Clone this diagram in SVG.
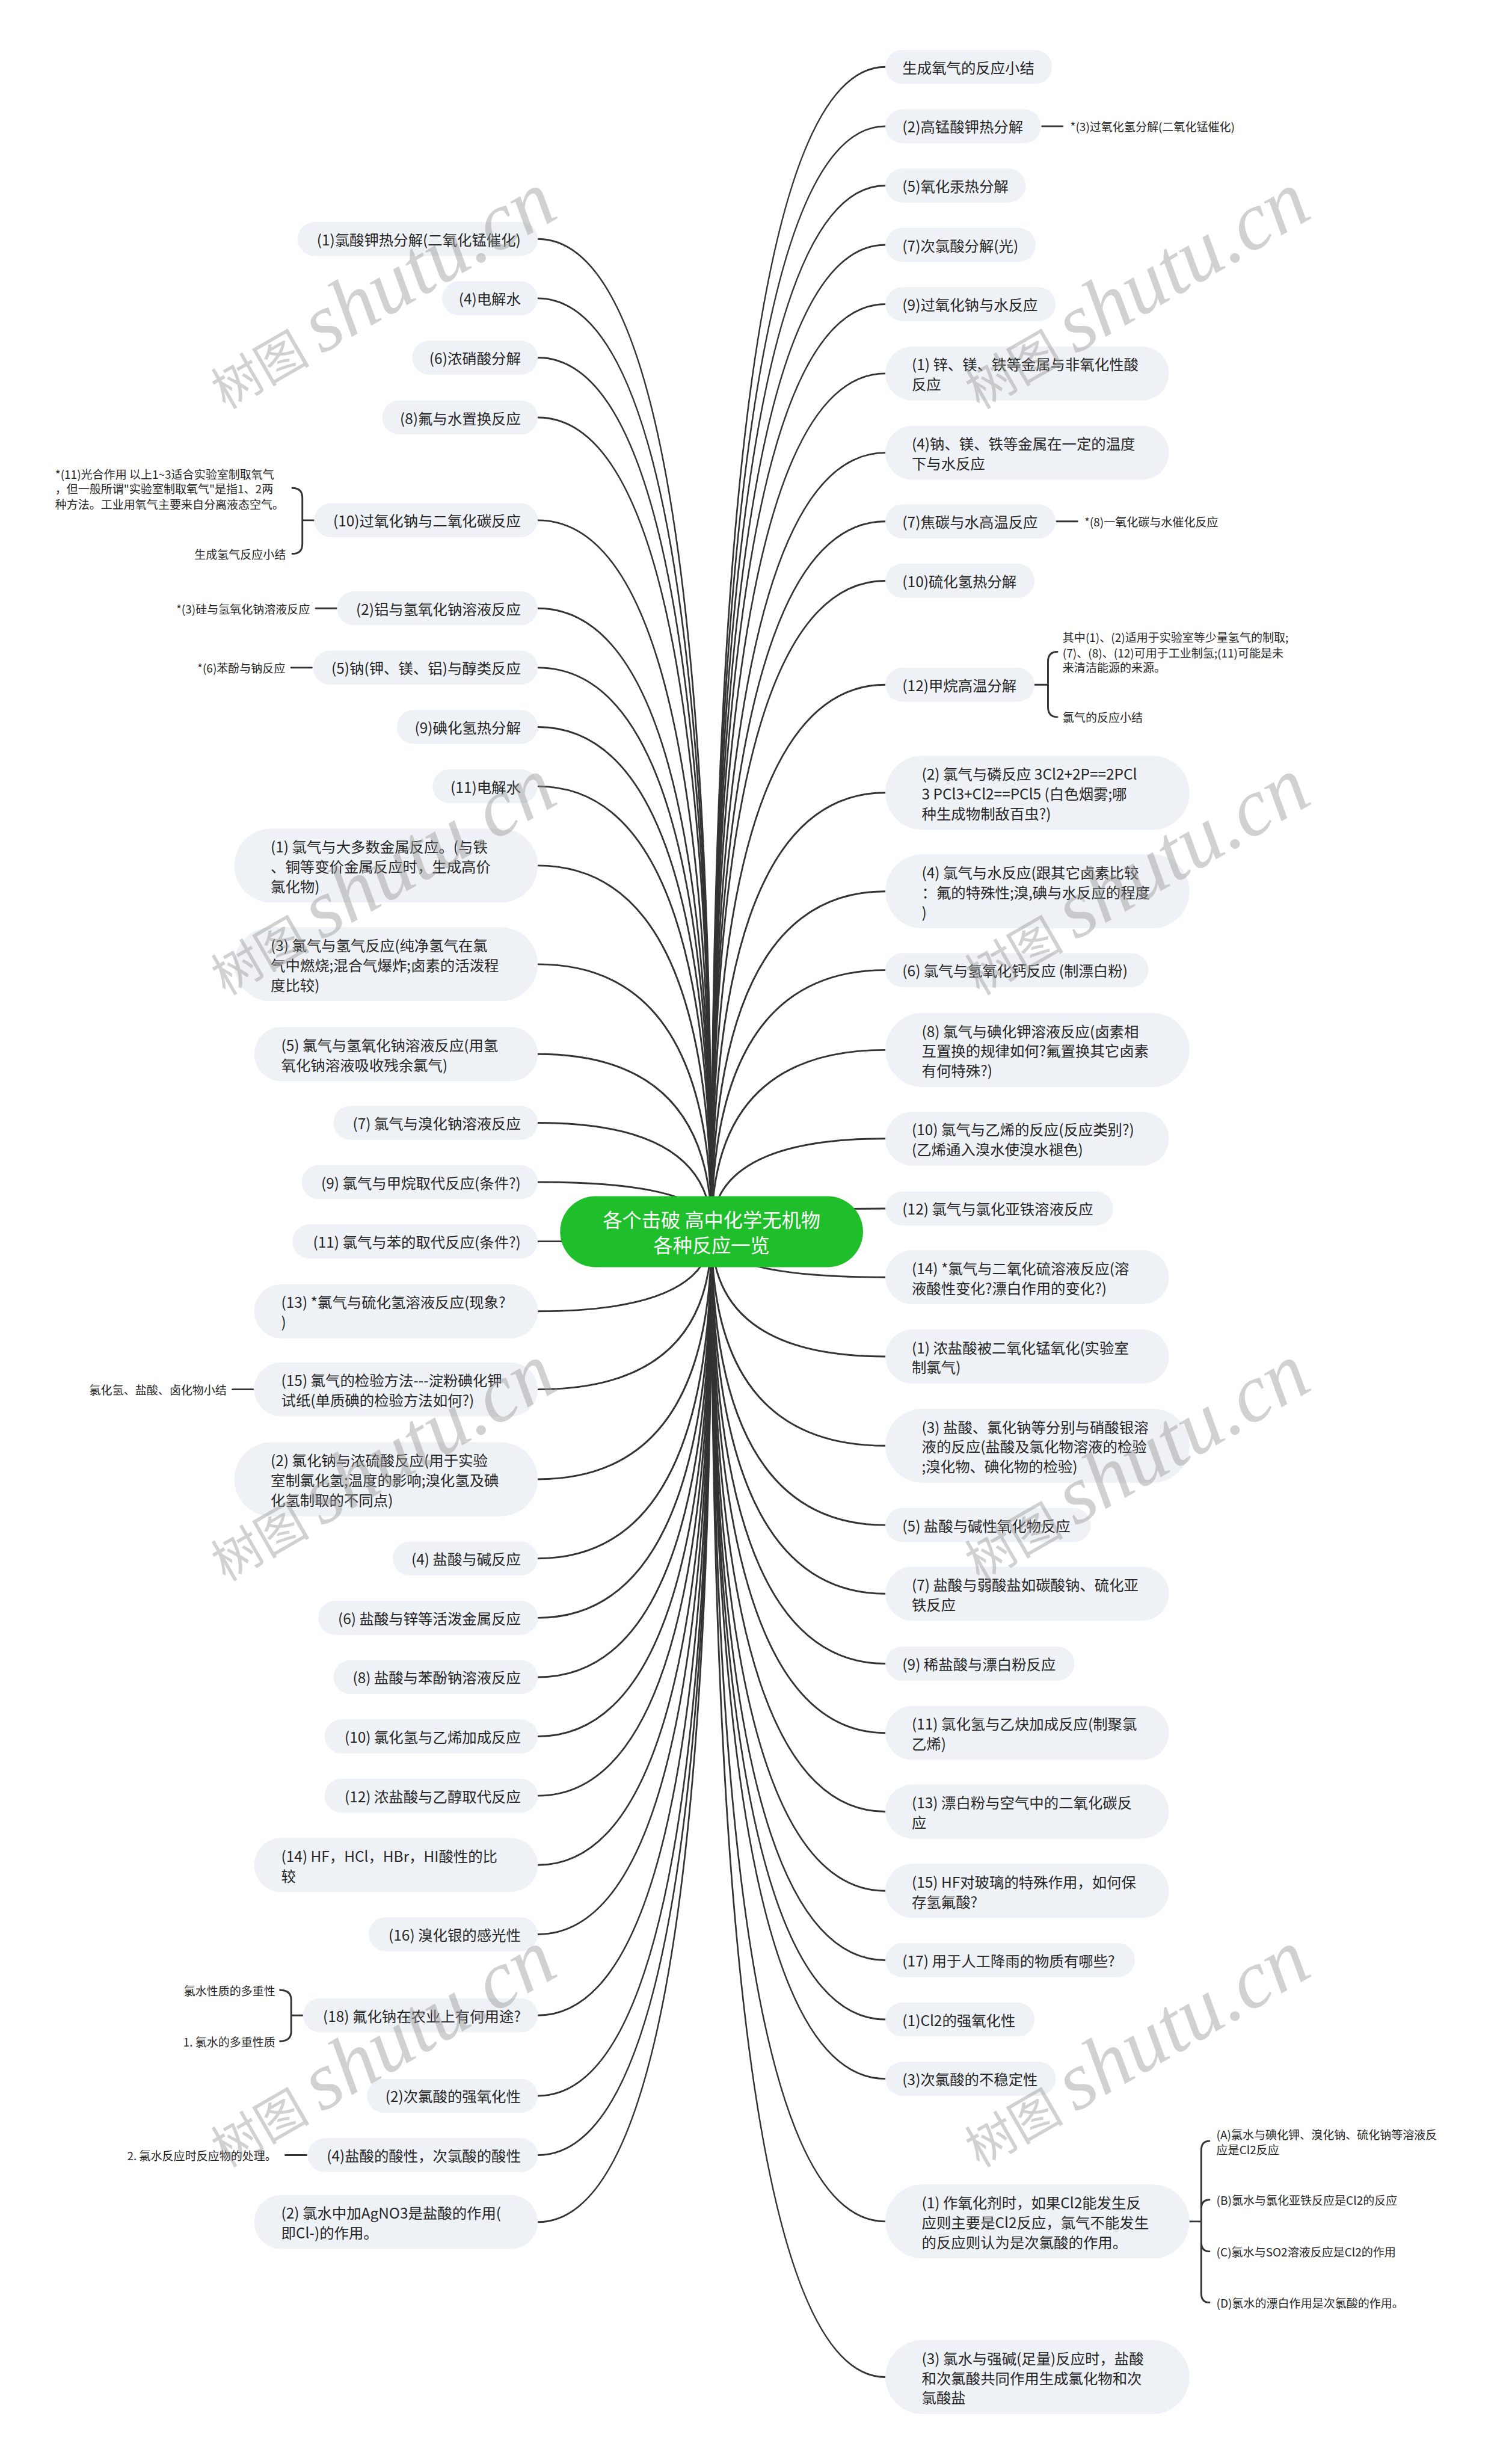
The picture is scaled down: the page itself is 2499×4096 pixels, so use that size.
<svg xmlns="http://www.w3.org/2000/svg" width="2499" height="4096" viewBox="0 0 2499 4096">
<style>
.nb{fill:#EEF1F5}
.t{font-family:"Noto Sans CJK SC","Liberation Sans",sans-serif;font-size:25px;fill:#262626;dominant-baseline:central}
.e{text-anchor:end}
.s{font-size:19.5px}
.c{fill:none;stroke:#333333;stroke-width:3;stroke-linecap:round}
.root{fill:#1FBF2C}
.rt{font-family:"Noto Sans CJK SC","Liberation Sans",sans-serif;font-size:33px;fill:#ffffff;text-anchor:middle;dominant-baseline:central}
.wm{font-family:"Liberation Serif","Noto Sans CJK SC",serif;font-size:84px;fill:#9a9a9a;fill-opacity:0.45}
</style>
<rect width="2499" height="4096" fill="#ffffff"/>
<g transform="scale(0.97617)">
<g id="connectors">
<path class="c" d="M1212,2097Q1212,407 916,407"/>
<path class="c" d="M1212,2097Q1212,508 916,508"/>
<path class="c" d="M1212,2097Q1212,609 916,609"/>
<path class="c" d="M1212,2097Q1212,711 916,711"/>
<path class="c" d="M1212,2097Q1212,886 916,886"/>
<path class="c" d="M1212,2097Q1212,1036 916,1036"/>
<path class="c" d="M1212,2097Q1212,1137 916,1137"/>
<path class="c" d="M1212,2097Q1212,1238 916,1238"/>
<path class="c" d="M1212,2097Q1212,1339 916,1339"/>
<path class="c" d="M1212,2097Q1212,1474 916,1474"/>
<path class="c" d="M1212,2097Q1212,1642 916,1642"/>
<path class="c" d="M1212,2097Q1212,1795 916,1795"/>
<path class="c" d="M1212,2097Q1212,1912 916,1912"/>
<path class="c" d="M1212,2097Q1212,2013 916,2013"/>
<path class="c" d="M1212,2097Q1212,2114 916,2114"/>
<path class="c" d="M1212,2097Q1212,2233 916,2233"/>
<path class="c" d="M1212,2097Q1212,2366 916,2366"/>
<path class="c" d="M1212,2097Q1212,2519 916,2519"/>
<path class="c" d="M1212,2097Q1212,2654 916,2654"/>
<path class="c" d="M1212,2097Q1212,2755 916,2755"/>
<path class="c" d="M1212,2097Q1212,2856 916,2856"/>
<path class="c" d="M1212,2097Q1212,2957 916,2957"/>
<path class="c" d="M1212,2097Q1212,3058 916,3058"/>
<path class="c" d="M1212,2097Q1212,3176 916,3176"/>
<path class="c" d="M1212,2097Q1212,3294 916,3294"/>
<path class="c" d="M1212,2097Q1212,3432 916,3432"/>
<path class="c" d="M1212,2097Q1212,3569 916,3569"/>
<path class="c" d="M1212,2097Q1212,3670 916,3670"/>
<path class="c" d="M1212,2097Q1212,3784 916,3784"/>
<path class="c" d="M1212,2097Q1212,114 1508,114"/>
<path class="c" d="M1212,2097Q1212,215 1508,215"/>
<path class="c" d="M1212,2097Q1212,316 1508,316"/>
<path class="c" d="M1212,2097Q1212,417 1508,417"/>
<path class="c" d="M1212,2097Q1212,518 1508,518"/>
<path class="c" d="M1212,2097Q1212,636 1508,636"/>
<path class="c" d="M1212,2097Q1212,771 1508,771"/>
<path class="c" d="M1212,2097Q1212,888 1508,888"/>
<path class="c" d="M1212,2097Q1212,989 1508,989"/>
<path class="c" d="M1212,2097Q1212,1166 1508,1166"/>
<path class="c" d="M1212,2097Q1212,1350 1508,1350"/>
<path class="c" d="M1212,2097Q1212,1518 1508,1518"/>
<path class="c" d="M1212,2097Q1212,1652 1508,1652"/>
<path class="c" d="M1212,2097Q1212,1788 1508,1788"/>
<path class="c" d="M1212,2097Q1212,1939 1508,1939"/>
<path class="c" d="M1212,2097Q1212,2058 1508,2058"/>
<path class="c" d="M1212,2097Q1212,2175 1508,2175"/>
<path class="c" d="M1212,2097Q1212,2310 1508,2310"/>
<path class="c" d="M1212,2097Q1212,2462 1508,2462"/>
<path class="c" d="M1212,2097Q1212,2597 1508,2597"/>
<path class="c" d="M1212,2097Q1212,2714 1508,2714"/>
<path class="c" d="M1212,2097Q1212,2833 1508,2833"/>
<path class="c" d="M1212,2097Q1212,2951 1508,2951"/>
<path class="c" d="M1212,2097Q1212,3085 1508,3085"/>
<path class="c" d="M1212,2097Q1212,3220 1508,3220"/>
<path class="c" d="M1212,2097Q1212,3338 1508,3338"/>
<path class="c" d="M1212,2097Q1212,3439 1508,3439"/>
<path class="c" d="M1212,2097Q1212,3540 1508,3540"/>
<path class="c" d="M1212,2097Q1212,3783 1508,3783"/>
<path class="c" d="M1212,2097Q1212,4048 1508,4048"/>
<path class="c" d="M535,886H515M498,831Q515,831 515,848V926Q515,943 498,943"/>
<path class="c" d="M538,1036H573"/>
<path class="c" d="M496,1137H531"/>
<path class="c" d="M396,2366H431"/>
<path class="c" d="M516,3432H496M477,3389Q496,3389 496,3406V3459Q496,3476 477,3476"/>
<path class="c" d="M486,3670H522"/>
<path class="c" d="M1775,215H1810"/>
<path class="c" d="M1800,888H1835"/>
<path class="c" d="M1762,1166H1785M1801,1110Q1785,1110 1785,1127V1204Q1785,1221 1801,1221"/>
<path class="c" d="M2026,3783H2046M2060,3646Q2046,3646 2046,3662V3905Q2046,3921 2060,3921M2046,3762Q2046,3746 2060,3746M2046,3818Q2046,3834 2060,3834"/>
</g>
<g id="root">
<rect class="root" x="954" y="2037" width="516" height="121" rx="60.5"/>
<text class="rt"><tspan x="1212" y="2075">各个击破 高中化学无机物</tspan><tspan x="1212" y="2119">各种反应一览</tspan></text>
</g>
<g id="l1"><rect class="nb" x="507" y="378" width="409" height="58" rx="29"/><text class="t e" x="887" y="407">(1)氯酸钾热分解(二氧化锰催化)</text></g>
<g id="l2"><rect class="nb" x="753" y="479" width="163" height="58" rx="29"/><text class="t e" x="887" y="508">(4)电解水</text></g>
<g id="l3"><rect class="nb" x="702" y="580" width="214" height="58" rx="29"/><text class="t e" x="887" y="609">(6)浓硝酸分解</text></g>
<g id="l4"><rect class="nb" x="651" y="682" width="265" height="58" rx="29"/><text class="t e" x="887" y="711">(8)氟与水置换反应</text></g>
<g id="l5"><rect class="nb" x="535" y="857" width="381" height="58" rx="29"/><text class="t e" x="887" y="886">(10)过氧化钠与二氧化碳反应</text></g>
<g id="l5a"><text class="t s"><tspan x="94" y="806">*(11)光合作用 以上1~3适合实验室制取氧气</tspan><tspan x="94" y="831">，但一般所谓"实验室制取氧气"是指1、2两</tspan><tspan x="94" y="857">种方法。工业用氧气主要来自分离液态空气。</tspan></text></g>
<g id="l5b"><text class="t s e" x="487" y="943">生成氢气反应小结</text></g>
<g id="l6"><rect class="nb" x="574" y="1007" width="342" height="58" rx="29"/><text class="t e" x="887" y="1036">(2)铝与氢氧化钠溶液反应</text></g>
<g id="l6a"><text class="t s e" x="528" y="1036">*(3)硅与氢氧化钠溶液反应</text></g>
<g id="l7"><rect class="nb" x="533" y="1108" width="383" height="58" rx="29"/><text class="t e" x="887" y="1137">(5)钠(钾、镁、铝)与醇类反应</text></g>
<g id="l7a"><text class="t s e" x="486" y="1137">*(6)苯酚与钠反应</text></g>
<g id="l8"><rect class="nb" x="676" y="1209" width="240" height="58" rx="29"/><text class="t e" x="887" y="1238">(9)碘化氢热分解</text></g>
<g id="l9"><rect class="nb" x="737" y="1310" width="179" height="58" rx="29"/><text class="t e" x="887" y="1339">(11)电解水</text></g>
<g id="l10"><rect class="nb" x="399" y="1411" width="517" height="126" rx="63"/><text class="t"><tspan x="461" y="1440.5">(1) 氯气与大多数金属反应。(与铁</tspan><tspan x="461" y="1474">、铜等变价金属反应时，生成高价</tspan><tspan x="461" y="1507.5">氯化物)</tspan></text></g>
<g id="l11"><rect class="nb" x="399" y="1579" width="517" height="126" rx="63"/><text class="t"><tspan x="461" y="1608.5">(3) 氯气与氢气反应(纯净氢气在氯</tspan><tspan x="461" y="1642">气中燃烧;混合气爆炸;卤素的活泼程</tspan><tspan x="461" y="1675.5">度比较)</tspan></text></g>
<g id="l12"><rect class="nb" x="433" y="1749" width="483" height="92" rx="46"/><text class="t"><tspan x="479" y="1778.25">(5) 氯气与氢氧化钠溶液反应(用氢</tspan><tspan x="479" y="1811.75">氧化钠溶液吸收残余氯气)</tspan></text></g>
<g id="l13"><rect class="nb" x="568" y="1883" width="348" height="58" rx="29"/><text class="t e" x="887" y="1912">(7) 氯气与溴化钠溶液反应</text></g>
<g id="l14"><rect class="nb" x="514" y="1984" width="402" height="58" rx="29"/><text class="t e" x="887" y="2013">(9) 氯气与甲烷取代反应(条件?)</text></g>
<g id="l15"><rect class="nb" x="498" y="2085" width="418" height="58" rx="29"/><text class="t e" x="887" y="2114">(11) 氯气与苯的取代反应(条件?)</text></g>
<g id="l16"><rect class="nb" x="433" y="2187" width="483" height="92" rx="46"/><text class="t"><tspan x="479" y="2216.25">(13) *氯气与硫化氢溶液反应(现象?</tspan><tspan x="479" y="2249.75">)</tspan></text></g>
<g id="l17"><rect class="nb" x="433" y="2320" width="483" height="92" rx="46"/><text class="t"><tspan x="479" y="2349.25">(15) 氯气的检验方法---淀粉碘化钾</tspan><tspan x="479" y="2382.75">试纸(单质碘的检验方法如何?)</tspan></text></g>
<g id="l17a"><text class="t s e" x="386" y="2366">氯化氢、盐酸、卤化物小结</text></g>
<g id="l18"><rect class="nb" x="399" y="2456" width="517" height="126" rx="63"/><text class="t"><tspan x="461" y="2485.5">(2) 氯化钠与浓硫酸反应(用于实验</tspan><tspan x="461" y="2519">室制氯化氢;温度的影响;溴化氢及碘</tspan><tspan x="461" y="2552.5">化氢制取的不同点)</tspan></text></g>
<g id="l19"><rect class="nb" x="669" y="2625" width="247" height="58" rx="29"/><text class="t e" x="887" y="2654">(4) 盐酸与碱反应</text></g>
<g id="l20"><rect class="nb" x="542" y="2726" width="374" height="58" rx="29"/><text class="t e" x="887" y="2755">(6) 盐酸与锌等活泼金属反应</text></g>
<g id="l21"><rect class="nb" x="568" y="2827" width="348" height="58" rx="29"/><text class="t e" x="887" y="2856">(8) 盐酸与苯酚钠溶液反应</text></g>
<g id="l22"><rect class="nb" x="553" y="2928" width="363" height="58" rx="29"/><text class="t e" x="887" y="2957">(10) 氯化氢与乙烯加成反应</text></g>
<g id="l23"><rect class="nb" x="553" y="3029" width="363" height="58" rx="29"/><text class="t e" x="887" y="3058">(12) 浓盐酸与乙醇取代反应</text></g>
<g id="l24"><rect class="nb" x="433" y="3130" width="483" height="92" rx="46"/><text class="t"><tspan x="479" y="3159.25">(14) HF，HCl，HBr，HI酸性的比</tspan><tspan x="479" y="3192.75">较</tspan></text></g>
<g id="l25"><rect class="nb" x="628" y="3265" width="288" height="58" rx="29"/><text class="t e" x="887" y="3294">(16) 溴化银的感光性</text></g>
<g id="l26"><rect class="nb" x="516" y="3403" width="400" height="58" rx="29"/><text class="t e" x="887" y="3432">(18) 氟化钠在农业上有何用途?</text></g>
<g id="l26a"><text class="t s e" x="469" y="3389">氯水性质的多重性</text></g>
<g id="l26b"><text class="t s e" x="469" y="3476">1. 氯水的多重性质</text></g>
<g id="l27"><rect class="nb" x="625" y="3540" width="291" height="58" rx="29"/><text class="t e" x="887" y="3569">(2)次氯酸的强氧化性</text></g>
<g id="l28"><rect class="nb" x="524" y="3641" width="392" height="58" rx="29"/><text class="t e" x="887" y="3670">(4)盐酸的酸性，次氯酸的酸性</text></g>
<g id="l28a"><text class="t s e" x="471" y="3670">2. 氯水反应时反应物的处理。</text></g>
<g id="l29"><rect class="nb" x="433" y="3738" width="483" height="92" rx="46"/><text class="t"><tspan x="479" y="3767.25">(2) 氯水中加AgNO3是盐酸的作用(</tspan><tspan x="479" y="3800.75">即Cl-)的作用。</tspan></text></g>
<g id="r1"><rect class="nb" x="1508" y="85" width="284" height="58" rx="29"/><text class="t" x="1537" y="114">生成氧气的反应小结</text></g>
<g id="r2"><rect class="nb" x="1508" y="186" width="265" height="58" rx="29"/><text class="t" x="1537" y="215">(2)高锰酸钾热分解</text></g>
<g id="r2a"><text class="t s" x="1823" y="215">*(3)过氧化氢分解(二氧化锰催化)</text></g>
<g id="r3"><rect class="nb" x="1508" y="287" width="239" height="58" rx="29"/><text class="t" x="1537" y="316">(5)氧化汞热分解</text></g>
<g id="r4"><rect class="nb" x="1508" y="388" width="256" height="58" rx="29"/><text class="t" x="1537" y="417">(7)次氯酸分解(光)</text></g>
<g id="r5"><rect class="nb" x="1508" y="489" width="290" height="58" rx="29"/><text class="t" x="1537" y="518">(9)过氧化钠与水反应</text></g>
<g id="r6"><rect class="nb" x="1508" y="590" width="483" height="92" rx="46"/><text class="t"><tspan x="1553" y="619.25">(1) 锌、镁、铁等金属与非氧化性酸</tspan><tspan x="1553" y="652.75">反应</tspan></text></g>
<g id="r7"><rect class="nb" x="1508" y="725" width="483" height="92" rx="46"/><text class="t"><tspan x="1553" y="754.25">(4)钠、镁、铁等金属在一定的温度</tspan><tspan x="1553" y="787.75">下与水反应</tspan></text></g>
<g id="r8"><rect class="nb" x="1508" y="859" width="290" height="58" rx="29"/><text class="t" x="1537" y="888">(7)焦碳与水高温反应</text></g>
<g id="r8a"><text class="t s" x="1847" y="888">*(8)一氧化碳与水催化反应</text></g>
<g id="r9"><rect class="nb" x="1508" y="960" width="254" height="58" rx="29"/><text class="t" x="1537" y="989">(10)硫化氢热分解</text></g>
<g id="r10"><rect class="nb" x="1508" y="1137" width="254" height="58" rx="29"/><text class="t" x="1537" y="1166">(12)甲烷高温分解</text></g>
<g id="r10a"><text class="t s"><tspan x="1810" y="1084">其中(1)、(2)适用于实验室等少量氢气的制取;</tspan><tspan x="1810" y="1110">(7)、(8)、(12)可用于工业制氢;(11)可能是未</tspan><tspan x="1810" y="1135">来清洁能源的来源。</tspan></text></g>
<g id="r10b"><text class="t s" x="1810" y="1221">氯气的反应小结</text></g>
<g id="r11"><rect class="nb" x="1508" y="1287" width="518" height="126" rx="63"/><text class="t"><tspan x="1570" y="1316.5">(2) 氯气与磷反应 3Cl2+2P==2PCl</tspan><tspan x="1570" y="1350">3 PCl3+Cl2==PCl5 (白色烟雾;哪</tspan><tspan x="1570" y="1383.5">种生成物制敌百虫?)</tspan></text></g>
<g id="r12"><rect class="nb" x="1508" y="1455" width="518" height="126" rx="63"/><text class="t"><tspan x="1570" y="1484.5">(4) 氯气与水反应(跟其它卤素比较</tspan><tspan x="1570" y="1518">：氟的特殊性;溴,碘与水反应的程度</tspan><tspan x="1570" y="1551.5">)</tspan></text></g>
<g id="r13"><rect class="nb" x="1508" y="1623" width="448" height="58" rx="29"/><text class="t" x="1537" y="1652">(6) 氯气与氢氧化钙反应 (制漂白粉)</text></g>
<g id="r14"><rect class="nb" x="1508" y="1725" width="518" height="126" rx="63"/><text class="t"><tspan x="1570" y="1754.5">(8) 氯气与碘化钾溶液反应(卤素相</tspan><tspan x="1570" y="1788">互置换的规律如何?氟置换其它卤素</tspan><tspan x="1570" y="1821.5">有何特殊?)</tspan></text></g>
<g id="r15"><rect class="nb" x="1508" y="1893" width="483" height="92" rx="46"/><text class="t"><tspan x="1553" y="1922.25">(10) 氯气与乙烯的反应(反应类别?)</tspan><tspan x="1553" y="1955.75">(乙烯通入溴水使溴水褪色)</tspan></text></g>
<g id="r16"><rect class="nb" x="1508" y="2029" width="388" height="58" rx="29"/><text class="t" x="1537" y="2058">(12) 氯气与氯化亚铁溶液反应</text></g>
<g id="r17"><rect class="nb" x="1508" y="2129" width="483" height="92" rx="46"/><text class="t"><tspan x="1553" y="2158.25">(14) *氯气与二氧化硫溶液反应(溶</tspan><tspan x="1553" y="2191.75">液酸性变化?漂白作用的变化?)</tspan></text></g>
<g id="r18"><rect class="nb" x="1508" y="2264" width="483" height="92" rx="46"/><text class="t"><tspan x="1553" y="2293.25">(1) 浓盐酸被二氧化锰氧化(实验室</tspan><tspan x="1553" y="2326.75">制氯气)</tspan></text></g>
<g id="r19"><rect class="nb" x="1508" y="2399" width="518" height="126" rx="63"/><text class="t"><tspan x="1570" y="2428.5">(3) 盐酸、氯化钠等分别与硝酸银溶</tspan><tspan x="1570" y="2462">液的反应(盐酸及氯化物溶液的检验</tspan><tspan x="1570" y="2495.5">;溴化物、碘化物的检验)</tspan></text></g>
<g id="r20"><rect class="nb" x="1508" y="2568" width="350" height="58" rx="29"/><text class="t" x="1537" y="2597">(5) 盐酸与碱性氧化物反应</text></g>
<g id="r21"><rect class="nb" x="1508" y="2668" width="483" height="92" rx="46"/><text class="t"><tspan x="1553" y="2697.25">(7) 盐酸与弱酸盐如碳酸钠、硫化亚</tspan><tspan x="1553" y="2730.75">铁反应</tspan></text></g>
<g id="r22"><rect class="nb" x="1508" y="2804" width="322" height="58" rx="29"/><text class="t" x="1537" y="2833">(9) 稀盐酸与漂白粉反应</text></g>
<g id="r23"><rect class="nb" x="1508" y="2905" width="483" height="92" rx="46"/><text class="t"><tspan x="1553" y="2934.25">(11) 氯化氢与乙炔加成反应(制聚氯</tspan><tspan x="1553" y="2967.75">乙烯)</tspan></text></g>
<g id="r24"><rect class="nb" x="1508" y="3039" width="483" height="92" rx="46"/><text class="t"><tspan x="1553" y="3068.25">(13) 漂白粉与空气中的二氧化碳反</tspan><tspan x="1553" y="3101.75">应</tspan></text></g>
<g id="r25"><rect class="nb" x="1508" y="3174" width="483" height="92" rx="46"/><text class="t"><tspan x="1553" y="3203.25">(15) HF对玻璃的特殊作用，如何保</tspan><tspan x="1553" y="3236.75">存氢氟酸?</tspan></text></g>
<g id="r26"><rect class="nb" x="1508" y="3309" width="425" height="58" rx="29"/><text class="t" x="1537" y="3338">(17) 用于人工降雨的物质有哪些?</text></g>
<g id="r27"><rect class="nb" x="1508" y="3410" width="254" height="58" rx="29"/><text class="t" x="1537" y="3439">(1)Cl2的强氧化性</text></g>
<g id="r28"><rect class="nb" x="1508" y="3511" width="290" height="58" rx="29"/><text class="t" x="1537" y="3540">(3)次氯酸的不稳定性</text></g>
<g id="r29"><rect class="nb" x="1508" y="3720" width="518" height="126" rx="63"/><text class="t"><tspan x="1570" y="3749.5">(1) 作氧化剂时，如果Cl2能发生反</tspan><tspan x="1570" y="3783">应则主要是Cl2反应，氯气不能发生</tspan><tspan x="1570" y="3816.5">的反应则认为是次氯酸的作用。</tspan></text></g>
<g id="r29a"><text class="t s"><tspan x="2072" y="3634">(A)氯水与碘化钾、溴化钠、硫化钠等溶液反</tspan><tspan x="2072" y="3659">应是Cl2反应</tspan></text></g>
<g id="r29b"><text class="t s" x="2072" y="3746">(B)氯水与氯化亚铁反应是Cl2的反应</text></g>
<g id="r29c"><text class="t s" x="2072" y="3834">(C)氯水与SO2溶液反应是Cl2的作用</text></g>
<g id="r29d"><text class="t s" x="2072" y="3921">(D)氯水的漂白作用是次氯酸的作用。</text></g>
<g id="r30"><rect class="nb" x="1508" y="3985" width="518" height="126" rx="63"/><text class="t"><tspan x="1570" y="4014.5">(3) 氯水与强碱(足量)反应时，盐酸</tspan><tspan x="1570" y="4048">和次氯酸共同作用生成氯化物和次</tspan><tspan x="1570" y="4081.5">氯酸盐</tspan></text></g>
<g id="watermarks">
<text class="wm" transform="translate(384,698) rotate(-30)">树图 <tspan font-style="italic" font-size="140">shutu.cn</tspan></text>
<text class="wm" transform="translate(1668,698) rotate(-30)">树图 <tspan font-style="italic" font-size="140">shutu.cn</tspan></text>
<text class="wm" transform="translate(384,1696) rotate(-30)">树图 <tspan font-style="italic" font-size="140">shutu.cn</tspan></text>
<text class="wm" transform="translate(1668,1696) rotate(-30)">树图 <tspan font-style="italic" font-size="140">shutu.cn</tspan></text>
<text class="wm" transform="translate(384,2694) rotate(-30)">树图 <tspan font-style="italic" font-size="140">shutu.cn</tspan></text>
<text class="wm" transform="translate(1668,2694) rotate(-30)">树图 <tspan font-style="italic" font-size="140">shutu.cn</tspan></text>
<text class="wm" transform="translate(384,3692) rotate(-30)">树图 <tspan font-style="italic" font-size="140">shutu.cn</tspan></text>
<text class="wm" transform="translate(1668,3692) rotate(-30)">树图 <tspan font-style="italic" font-size="140">shutu.cn</tspan></text>
</g>
</g>
</svg>
